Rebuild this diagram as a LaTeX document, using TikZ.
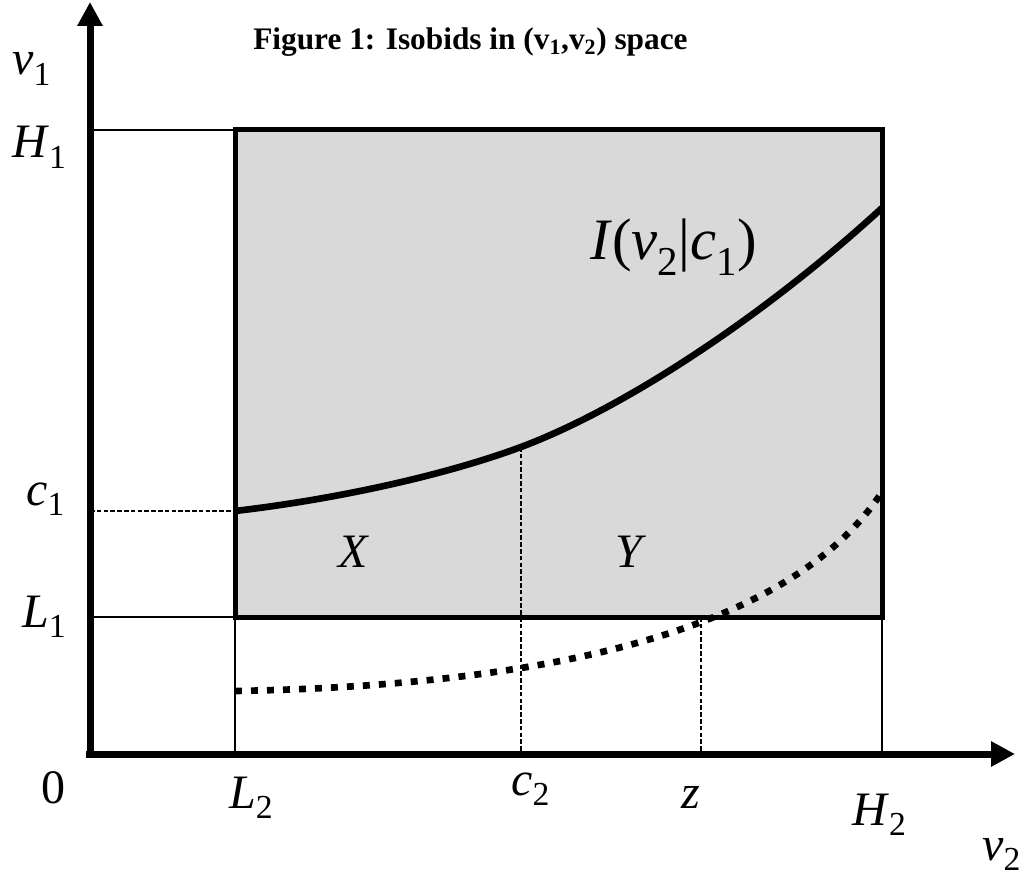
\documentclass[tikz,border=0pt]{standalone}
\usepackage{fontspec}
\setmainfont{Liberation Serif}
\usetikzlibrary{arrows.meta}
\definecolor{boxGray}{RGB}{217,217,217}

\newcommand{\vsub}[2]{\textit{#1}\textsubscript{#2}}

\begin{document}
\begin{tikzpicture}[x=0.75pt,y=-0.75pt,
      axis/.style={line width=5.25pt,-{Triangle[length=18pt,width=18pt]}},
      guide/.style={line width=1.1pt},
      guidedash/.style={line width=0.9pt,dash pattern=on 3.5pt off 1.6pt},
      isobid/.style={line width=5pt},
      lbl/.style={anchor=base west,inner sep=0pt,font=\fontsize{36}{40}\selectfont}]
    \useasboundingbox (0,0) rectangle (1036,884);

    % key points of the plot
    \coordinate (O) at (90,754);
    \coordinate (Ltwo) at (235,754);
    \coordinate (Htwo) at (882,754);
    \coordinate (LL) at (235,617);
    \coordinate (HL) at (882,617);
    \coordinate (LH) at (235,130);
    \coordinate (HH) at (882,130);
    \coordinate (cross) at (521,447);
    \coordinate (zpt) at (701,617);

    % guide lines to the axes
    \draw[guide] (90,130) -- (LH);
    \draw[guide] (90,617) -- (LL);
    \draw[guidedash] (90,511) -- (235,511);

    \fill[boxGray] (LL) rectangle (HH);

    \draw[guide] (LL) -- (Ltwo);
    \draw[guide] (HL) -- (Htwo);
    \draw[guidedash] (cross) -- (521,754);
    \draw[guidedash] (zpt) -- (701,754);

    % isobids
    \draw[isobid] (235,511) .. controls (330,500) and (440,477) .. (cross)
      .. controls (620,410) and (760,320) .. (882,208);
    \draw[isobid,dash pattern=on 5.2pt off 6.8pt] (235,691)
      .. controls (520,686) and (785,640) .. (882,492);

    \draw[line width=3.75pt] (LL) rectangle (HH);

    % axes
    \draw[axis] (86,754) -- (1015,754);
    \draw[axis] (90,758) -- (90,2);

    % labels
    \node[anchor=base west,inner sep=0pt,font=\fontsize{23.5}{26}\selectfont\bfseries] (title)
      at (253,50) {Figure 1: Isobids in (v\textsubscript{1},v\textsubscript{2}) space};
    \node[lbl] (vone) at (12,75) {\vsub{v}{1}};
    \node[lbl] (Hone) at (12,158) {\vsub{H}{1}};
    \node[lbl] (cone) at (26,505) {\vsub{c}{1}};
    \node[lbl] (Lone) at (22,627) {\vsub{L}{1}};
    \node[lbl] (zero) at (41,803) {0};
    \node[lbl] (Ltwolbl) at (229,808) {\vsub{L}{2}};
    \node[lbl] (ctwo) at (511,795) {\vsub{c}{2}};
    \node[lbl] (zlbl) at (681,808) {\textit{z}};
    \node[lbl] (Htwolbl) at (852,825) {\vsub{H}{2}};
    \node[lbl] (vtwo) at (982,860) {\vsub{v}{2}};
    \node[lbl] (X) at (338,567) {\textit{X}};
    \node[lbl] (Y) at (615,567) {\textit{Y}};
    \node[lbl,font=\fontsize{44}{48}\selectfont] (isolbl) at (590,260)
      {\textit{I}(\vsub{v}{2}|\vsub{c}{1})};
  \end{tikzpicture}
\end{document}
